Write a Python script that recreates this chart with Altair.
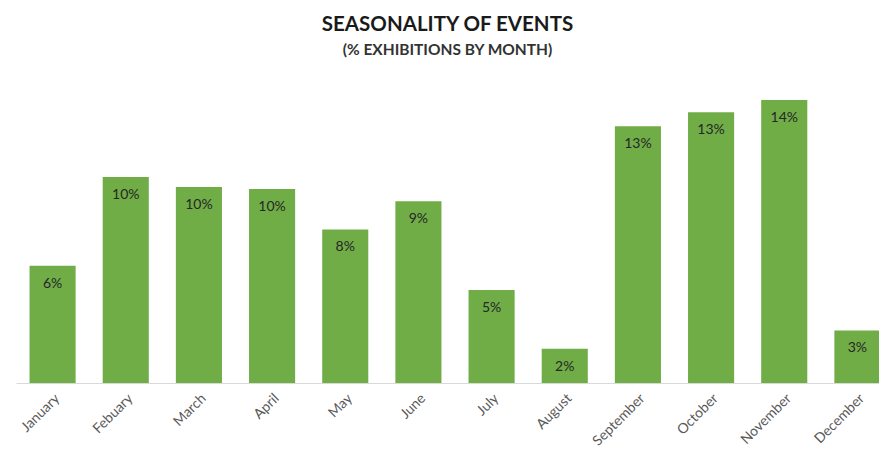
import altair as alt
import pandas as pd

months = ["January", "Febuary", "March", "April", "May", "June", "July",
          "August", "September", "October", "November", "December"]
share = [5.8, 10.2, 9.7, 9.6, 7.6, 9.0, 4.6, 1.7, 12.7, 13.4, 14.0, 2.6]

df = pd.DataFrame({"month": months, "share": share})
df["label"] = [f"{round(v):d}%" for v in share]

FONT = "Lato"

x = alt.X("month:N", sort=months, title=None,
          scale=alt.Scale(paddingInner=0.37, paddingOuter=0.185, range=[0, 878]),
          axis=alt.Axis(labelAngle=-45, labelFontSize=14, labelColor="#595959",
                        labelFont=FONT, ticks=False, domainColor="#d9d9d9",
                        domainWidth=1, labelPadding=8))
y = alt.Y("share:Q", title=None, scale=alt.Scale(domain=[0, 14.5]), axis=None)

bars = alt.Chart(df).mark_bar(color="#70AD47").encode(x=x, y=y)
text = alt.Chart(df).mark_text(dy=18, fontSize=14, font=FONT, color="#262626",
                               baseline="middle").encode(x=x, y=y, text="label:N")

chart = (bars + text).properties(
    width=863, height=293,
    title=alt.TitleParams(
        text="SEASONALITY OF EVENTS",
        subtitle="(% EXHIBITIONS BY MONTH)",
        font=FONT, fontSize=20.5, fontWeight="bold", color="#1a1a1a",
        subtitleFont=FONT, subtitleFontSize=15.5, subtitleFontWeight="bold",
        subtitleColor="#333333", subtitlePadding=7,
        anchor="middle", offset=32,
    ),
    autosize=alt.AutoSizeParams(type="none"),
    padding={"left": 16, "top": 90, "right": 0, "bottom": 79},
).configure(background="white").configure_view(stroke=None)

chart.save("out.html", embed_options={"renderer": "svg", "actions": False})
